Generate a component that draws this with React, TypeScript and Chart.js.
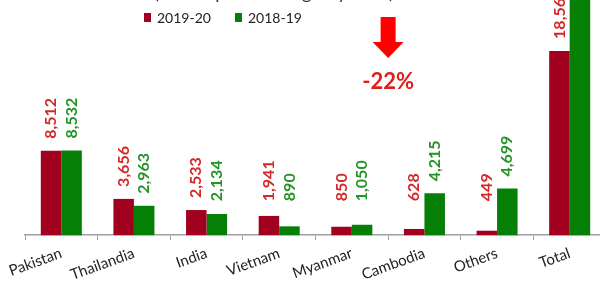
import React, { useEffect, useRef } from "react";
import { Chart, registerables } from "chart.js";

Chart.register(...registerables);

const categories = ["Pakistan", "Thailandia", "India", "Vietnam", "Myanmar", "Cambodia", "Others", "Total"];
const values2019_20 = [8512, 3656, 2533, 1941, 850, 628, 449, 18569];
const values2018_19 = [8532, 2963, 2134, 890, 1050, 4215, 4699, 23800];
const seriesNames = ["2019-20", "2018-19"];
const changeLabel = "-22%";
const titleText = "(Rice exports during July-June)";

const BAR_RED = "#a1001f";
const BAR_GREEN = "#067f06";
const LABEL_RED = "#d42828";
const LABEL_GREEN = "#249424";

const dataLabelPlugin = {
  id: "dataLabelPlugin",
  afterDatasetsDraw(chart: any) {
    const { ctx, chartArea } = chart;
    const cap = chartArea.bottom - 34;
    chart.data.datasets.forEach((ds: any, di: number) => {
      const meta = chart.getDatasetMeta(di);
      meta.data.forEach((bar: any, i: number) => {
        const v = ds.data[i];
        const bottom = Math.min(bar.y - 12, cap);
        ctx.save();
        ctx.translate(bar.x, bottom);
        ctx.rotate(-Math.PI / 2);
        ctx.font = "bold 16px Lato";
        ctx.fillStyle = di === 0 ? LABEL_RED : LABEL_GREEN;
        ctx.textAlign = "left";
        ctx.textBaseline = "middle";
        ctx.fillText(v.toLocaleString("en-US"), 0, 0);
        ctx.restore();
      });
    });
  },
};

const decorPlugin = {
  id: "decorPlugin",
  afterDraw(chart: any) {
    const { ctx } = chart;
    const x = chart.scales.x;
    ctx.save();
    // title (mostly cropped above)
    ctx.font = "18px Lato";
    ctx.fillStyle = "#333";
    ctx.textAlign = "center";
    ctx.textBaseline = "alphabetic";
    ctx.fillText(titleText, 274, -1);

    // legend
    ctx.font = "14px Lato";
    ctx.textAlign = "left";
    ctx.textBaseline = "middle";
    const items = [
      { label: seriesNames[0], color: BAR_RED, x: 144 },
      { label: seriesNames[1], color: BAR_GREEN, x: 235 },
    ];
    items.forEach((it) => {
      ctx.fillStyle = it.color;
      ctx.fillRect(it.x, 13, 7, 9);
      ctx.fillStyle = "#222";
      ctx.fillText(it.label, it.x + 13, 18.5);
    });

    // arrow
    const cx = (x.getPixelForValue(4) + x.getPixelForValue(5)) / 2;
    ctx.fillStyle = "#ff0000";
    ctx.beginPath();
    ctx.moveTo(cx - 7.5, 17);
    ctx.lineTo(cx + 7.5, 17);
    ctx.lineTo(cx + 7.5, 42);
    ctx.lineTo(cx + 15.5, 42);
    ctx.lineTo(cx, 58);
    ctx.lineTo(cx - 15.5, 42);
    ctx.lineTo(cx - 7.5, 42);
    ctx.closePath();
    ctx.fill();

    ctx.font = "bold 22px Lato";
    ctx.fillStyle = "#e31d1d";
    ctx.textAlign = "center";
    ctx.textBaseline = "middle";
    ctx.fillText(changeLabel, cx, 82);
    ctx.restore();
  },
};

export default function App() {
  const ref = useRef<HTMLCanvasElement | null>(null);

  useEffect(() => {
    if (!ref.current) return;
    const chart = new Chart(ref.current, {
      type: "bar",
      data: {
        labels: categories,
        datasets: [
          {
            label: seriesNames[0],
            data: values2019_20,
            backgroundColor: BAR_RED,
            categoryPercentage: 0.565,
            barPercentage: 1.0,
            clip: false as any,
          },
          {
            label: seriesNames[1],
            data: values2018_19,
            backgroundColor: BAR_GREEN,
            categoryPercentage: 0.565,
            barPercentage: 1.0,
            clip: false as any,
          },
        ],
      },
      options: {
        responsive: false,
        devicePixelRatio: 1,
        animation: false,
        events: [],
        layout: { padding: { left: 25, right: 14, top: 0, bottom: -6 } },
        plugins: {
          legend: { display: false },
          title: { display: false },
          tooltip: { enabled: false },
        },
        scales: {
          x: {
            grid: {
              display: true,
              offset: true,
              drawOnChartArea: false,
              drawTicks: true,
              tickLength: 5,
              color: "#a0a0a0",
            },
            border: { display: true, color: "#a0a0a0", width: 1.5 },
            ticks: {
              autoSkip: false,
              minRotation: 20,
              maxRotation: 20,
              padding: 4,
              color: "#222",
              font: { family: "Lato", size: 15 },
            },
          },
          y: {
            display: false,
            min: 0,
            max: 23700,
          },
        },
      },
      plugins: [dataLabelPlugin, decorPlugin],
    });
    return () => chart.destroy();
  }, []);

  return (
    <div
      style={{
        position: "absolute",
        left: 0,
        top: 0,
        width: 600,
        height: 282,
        overflow: "hidden",
        background: "#fff",
      }}
    >
      <canvas ref={ref} width={620} height={282} style={{ width: 620, height: 282, display: "block" }} />
    </div>
  );
}
